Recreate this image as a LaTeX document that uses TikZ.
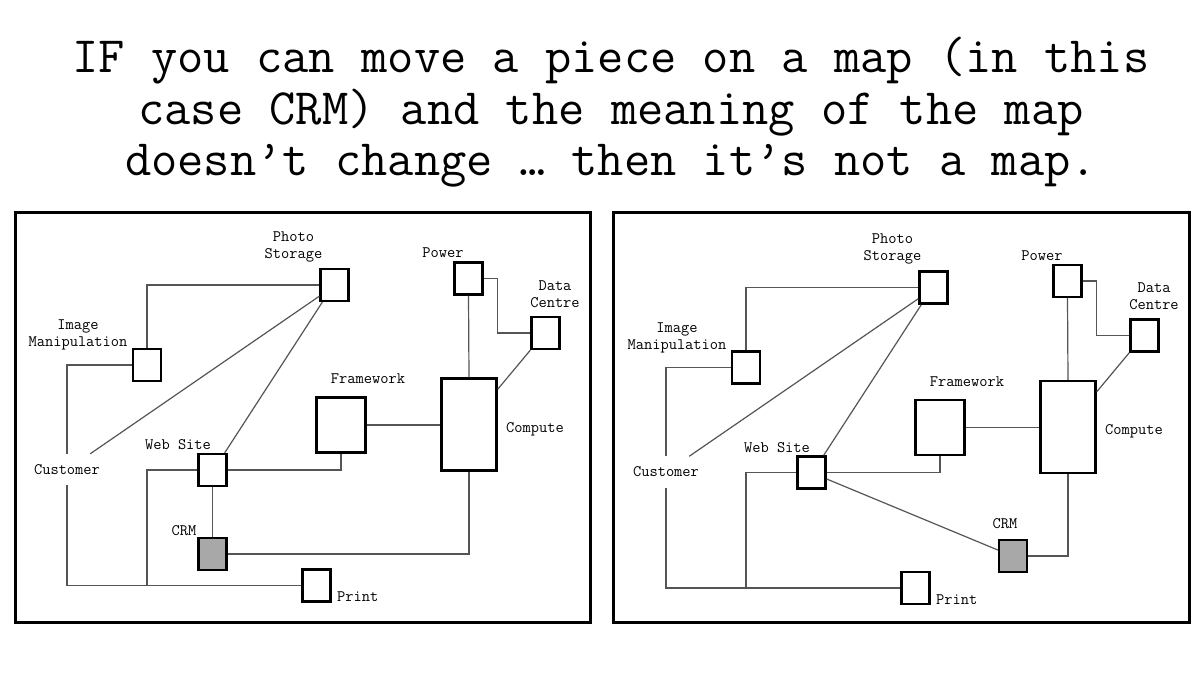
\documentclass[tikz,border=0pt]{standalone}
\definecolor{connc}{HTML}{555555}
\definecolor{crmfill}{HTML}{A8A8A8}
\newcommand\labfont{\ttfamily\fontsize{16}{17}\selectfont}
\newcommand\ttlfont{\ttfamily\fontsize{51}{52}\selectfont}
\tikzset{
  box/.style={draw=black, line width=2.4pt, fill=white, minimum width=28pt, minimum height=32pt, inner sep=0pt},
  crmbox/.style={box, fill=crmfill},
  lab/.style={font=\labfont, inner sep=0pt, align=center},
  conn/.style={draw=connc, line width=1.2pt},
  frame/.style={draw=black, line width=3pt},
  ttl/.style={font=\ttlfont, inner sep=0pt, anchor=base}
}
% common part of one map; #1 = name prefix
\newcommand\mapcommon[1]{%
  \node[box] (#1im) at (147,365) {};
  \node[box] (#1ps) at (334.5,285) {};
  \node[box] (#1ws) at (212.5,470) {};
  \node[box] (#1pr) at (316.5,585.5) {};
  \node[box] (#1pw) at (468.5,278.5) {};
  \node[box] (#1dc) at (545.5,333) {};
  \node[box, minimum width=49pt, minimum height=55pt] (#1fw) at (341,425) {};
  \node[box, minimum width=55pt, minimum height=92pt] (#1cp) at (469,424.5) {};
  \node[lab] (#1pslab) at (293.5,246.5) {Photo\\Storage};
  \node[lab] (#1imlab) at (78,335) {Image\\Manipulation};
  \node[lab, minimum height=31pt, minimum width=68pt] (#1cu) at (67,469.5) {Customer};
  \node[lab] (#1wslab) at (178,445) {Web Site};
  \node[lab] (#1fwlab) at (368,379) {Framework};
  \node[lab] (#1cplab) at (535,429) {Compute};
  \node[lab] (#1pwlab) at (443,253) {Power};
  \node[lab] (#1dclab) at (555,294) {Data\\Centre};
  \node[lab, anchor=west] (#1prlab) at (337,597) {Print};
  \coordinate (#1j) at (147,586);
  \draw[conn] (#1im.north) |- (#1ps.west);
  \draw[conn] (#1im.west) -| (#1cu.north);
  \draw[conn] (#1cu.south) |- (#1pr.west);
  \draw[conn] (#1ws.west) -| (#1j);
  \draw[conn] ([xshift=-11pt]#1cu.north east) -- ([yshift=6pt]#1ps.south west);
  \draw[conn] ([xshift=-3pt]#1ws.north east) -- ([xshift=3pt]#1ps.south west);
  \draw[conn] (#1ws.east) -| (#1fw.south);
  \draw[conn] (#1fw.east) -- (#1fw.east -| #1cp.west);
  \draw[conn] (#1pw.south) -- (#1cp.north);
  \draw[conn] (#1pw.east) -| (#1cp.east |- #1dc.west) -- (#1dc.west);
  \draw[conn] (#1dc.south west) -- ([yshift=-12pt]#1cp.north east);
}
\begin{document}
\begin{tikzpicture}[x=1pt, y=-1pt]
  \useasboundingbox (0,0) rectangle (1200,675);
  \fill[white] (0,0) rectangle (1200,675);
  % title
  \node[ttl] (t1) at (611,72) {IF you can move a piece on a map (in this};
  \node[ttl] (t2) at (611,124) {case CRM) and the meaning of the map};
  \node[ttl] (t3) at (611,175) {doesn’t change … then it’s not a map.};
  % frames
  \node[frame, minimum width=575pt, minimum height=410pt, inner sep=0pt] (lframe) at (302.5,417) {};
  \node[frame, minimum width=576pt, minimum height=410pt, inner sep=0pt] (rframe) at (901,417) {};
  % left map: CRM under Web Site
  \begin{scope}
    \mapcommon{l}
    \node[crmbox] (lcrm) at (212.5,554) {};
    \node[lab] (lcrmlab) at (184,531) {CRM};
    \draw[conn] (lws.south) -- (lcrm.north);
    \draw[conn] (lcrm.east) -| (lcp.south);
  \end{scope}
  % right map: CRM moved
  \begin{scope}[shift={(599,2.5)}]
    \mapcommon{r}
    \node[crmbox] (rcrm) at (414,553.5) {};
    \node[lab] (rcrmlab) at (406,521.5) {CRM};
    \draw[conn] ([yshift=-6.5pt]rws.east) -- ([yshift=6pt]rcrm.west);
    \draw[conn] (rcrm.east) -| (rcp.south);
  \end{scope}
\end{tikzpicture}
\end{document}
